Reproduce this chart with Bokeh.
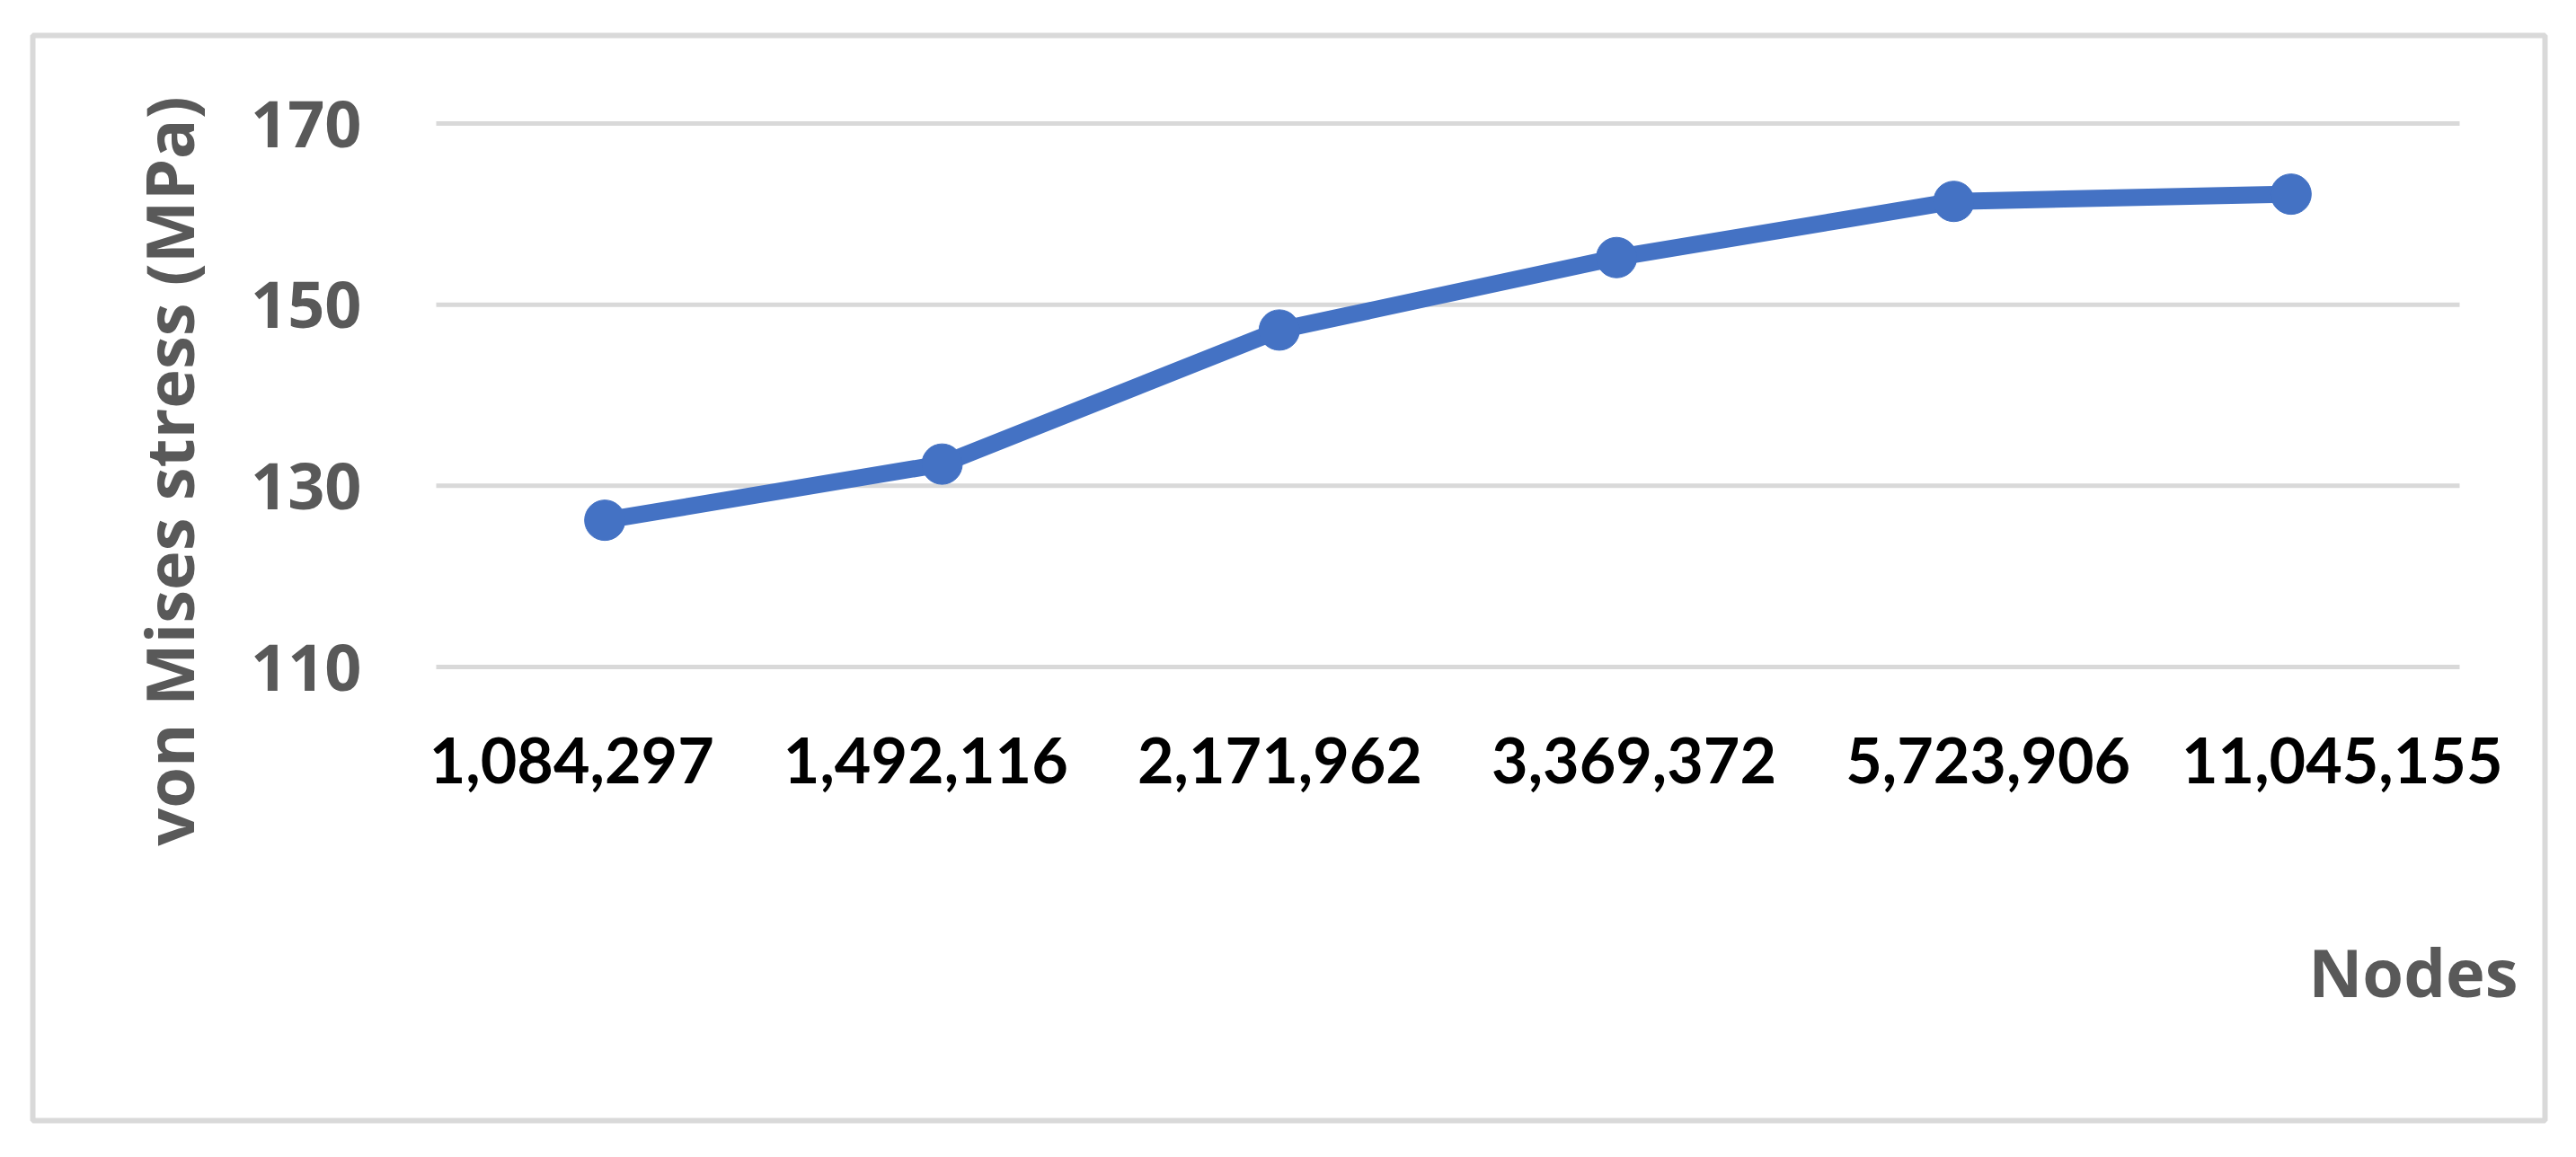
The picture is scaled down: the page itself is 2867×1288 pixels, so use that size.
from bokeh.plotting import figure
from bokeh.models import ColumnDataSource, FixedTicker, Label, Range1d
from bokeh.embed import file_html
from bokeh.resources import INLINE

nodes = ["1,084,297", "1,492,116", "2,171,962", "3,369,372", "5,723,906", "11,045,155"]
stress = [126.2, 132.4, 147.2, 155.2, 161.4, 162.2]
y_ticks = [110, 130, 150, 170]
y_title = "von Mises stress (MPa)"
x_title = "Nodes"

LINE = "#4472c4"
GRAY = "#595959"
GRID = "#d9d9d9"

# ---- geometry (pixels) ----
CANVAS_W, CANVAS_H = 2851, 1272
BOX_L, BOX_R, BOX_T, BOX_B = 36, 2832, 39, 1247          # chart border = frame
AREA_L, AREA_R, AREA_T, AREA_B = 485, 2737, 137, 742      # plot area
LABEL_SPREAD = 1.05                                      # category labels spaced a bit wider
LABEL_SHIFT_PX = 10
n = len(nodes)
x_lo, x_hi = -0.5, n - 0.5
y_lo, y_hi = y_ticks[0], y_ticks[-1]
xpp = (x_hi - x_lo) / (AREA_R - AREA_L)
ypp = (y_hi - y_lo) / (AREA_B - AREA_T)
x_start = x_lo - (AREA_L - BOX_L) * xpp
x_end = x_hi + (BOX_R - AREA_R) * xpp
y_start = y_lo - (BOX_B - AREA_B) * ypp
y_end = y_hi + (AREA_T - BOX_T) * ypp
x_mid = (x_lo + x_hi) / 2
lab_shift = LABEL_SHIFT_PX * xpp / LABEL_SPREAD

def cx(px):
    return x_lo + (px - AREA_L) * xpp

def cy(py):
    return y_lo + (AREA_B - py) * ypp

xs = list(range(n))
src = ColumnDataSource(dict(x=xs, node=nodes, stress=stress))

p = figure(
    x_range=Range1d(x_start, x_end),
    y_range=Range1d(y_start, y_end),
    frame_width=BOX_R - BOX_L, frame_height=BOX_B - BOX_T,
    min_border_left=BOX_L, min_border_right=CANVAS_W - BOX_R,
    min_border_top=BOX_T, min_border_bottom=CANVAS_H - BOX_B,
    output_backend="svg", toolbar_location=None,
    background_fill_color="white", border_fill_color="white",
)
p.extra_x_ranges = {"labels": Range1d(x_mid + (x_start - x_mid) / LABEL_SPREAD - lab_shift,
                                      x_mid + (x_end - x_mid) / LABEL_SPREAD - lab_shift)}
p.outline_line_color = GRID
p.outline_line_width = 6

# grid lines limited to plot area
p.xgrid.grid_line_color = None
p.ygrid.grid_line_color = None
p.segment(x0=[x_lo] * len(y_ticks), x1=[x_hi] * len(y_ticks), y0=y_ticks, y1=y_ticks,
          line_color=GRID, line_width=5)

p.line("x", "stress", source=src, line_color=LINE, line_width=19, line_join="round", line_cap="round")
p.scatter("x", "stress", source=src, size=45, fill_color=LINE, line_color=LINE, marker="circle")

# axes placed at plot-area edges
yax = p.yaxis[0]
yax.fixed_location = x_lo
yax.ticker = FixedTicker(ticks=y_ticks)
yax.axis_line_color = None
yax.major_tick_line_color = None
yax.minor_tick_line_color = None
yax.major_tick_out = 0
yax.major_tick_in = 0
yax.major_label_standoff = 83
yax.major_label_text_font = "Open Sans"
yax.major_label_text_font_style = "bold"
yax.major_label_text_font_size = "72px"
yax.major_label_text_color = GRAY

xax = p.xaxis[0]
xax.x_range_name = "labels"
xax.fixed_location = y_lo
xax.ticker = FixedTicker(ticks=xs)
xax.major_label_overrides = {i: lab for i, lab in zip(xs, nodes)}
xax.axis_line_color = None
xax.major_tick_line_color = None
xax.minor_tick_line_color = None
xax.major_tick_out = 0
xax.major_tick_in = 0
xax.major_label_standoff = 78
xax.major_label_text_font = "Lato"
xax.major_label_text_font_style = "bold"
xax.major_label_text_font_size = "70px"
xax.major_label_text_color = "#000000"

# axis titles
p.add_layout(Label(x=cx(187), y=cy(524), text=y_title,
                   angle=90, angle_units="deg", text_align="center", text_baseline="middle",
                   text_font="Open Sans", text_font_style="bold", text_font_size="74px",
                   text_color=GRAY))
p.add_layout(Label(x=cx(2802), y=cy(1081), text=x_title,
                   text_align="right", text_baseline="middle",
                   text_font="Open Sans", text_font_style="bold", text_font_size="74px",
                   text_color=GRAY))

open("out.html", "w").write(file_html(p, INLINE))
